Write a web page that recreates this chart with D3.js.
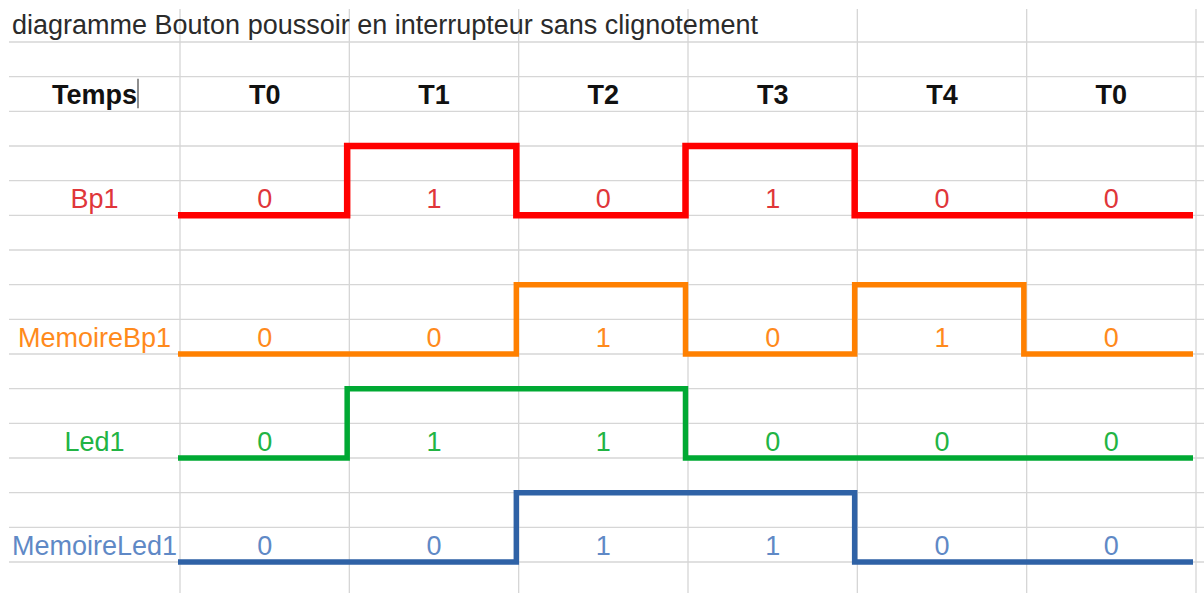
<!DOCTYPE html>
<html>
<head>
<meta charset="utf-8">
<script src="https://cdn.jsdelivr.net/npm/d3@7"></script>
<style>
  html, body { margin: 0; padding: 0; background: #fff; }
  svg { display: block; }
  text { font-family: "Liberation Sans", Arial, sans-serif; }
</style>
</head>
<body>
<script>
// data
var title = 'diagramme Bouton poussoir en interrupteur sans clignotement';
var headerLabel = 'Temps';
var times = ['T0', 'T1', 'T2', 'T3', 'T4', 'T0'];
var signals = ['Bp1', 'MemoireBp1', 'Led1', 'MemoireLed1'];
var bp1 = [0, 1, 0, 1, 0, 0];
var memoireBp1 = [0, 0, 1, 0, 1, 0];
var led1 = [0, 1, 1, 0, 0, 0];
var memoireLed1 = [0, 0, 1, 1, 0, 0];
var seriesValues = [bp1, memoireBp1, led1, memoireLed1];

// layout
var W = 1204, H = 593;
var baseRow = [5, 9, 12, 15];      // grid line where each signal sits when at 0
var lineColor = ['#ff0000', '#ff8000', '#00a933', '#2f62a6'];
var textColor = ['#e0363a', '#ff8a1c', '#22b444', '#5f89c6'];
var lineWidth = [6.5, 5.5, 5.5, 5.5];

var svg = d3.select('body').append('svg')
	.attr('width', W)
	.attr('height', H);

// spreadsheet rows / columns
var row = d3.scaleLinear().domain([0, 15]).range([42, 562]);
var col = d3.scaleLinear().domain([0, 6]).range([180, 1196]);
var step = d3.scaleLinear().domain([0, 6]).range([178, 1193]);

var grid = svg.append('g').attr('class', 'grid');
grid.selectAll('line.h')
	.data(d3.range(0, 16))
	.enter().append('line')
	.attr('class', 'h')
	.attr('x1', 9).attr('x2', W)
	.attr('y1', function(d){ return row(d); })
	.attr('y2', function(d){ return row(d); })
	.attr('stroke', '#d6d6d6')
	.attr('stroke-width', 1.3);

grid.selectAll('line.v')
	.data(d3.range(0, 7))
	.enter().append('line')
	.attr('class', 'v')
	.attr('x1', function(d){ return col(d); })
	.attr('x2', function(d){ return col(d); })
	.attr('y1', 9).attr('y2', H)
	.attr('stroke', '#d6d6d6')
	.attr('stroke-width', 1.3);

var labelX = (9 + col(0)) / 2;
var center = function(i){ return (col(i) + col(i + 1)) / 2; };
var fs = 27;

// title
svg.append('text')
	.attr('x', 12)
	.attr('y', row(0) - 8)
	.attr('font-size', fs)
	.attr('fill', '#2b2b2b')
	.text(title);

// header row
svg.append('text')
	.attr('x', labelX)
	.attr('y', row(2) - 7.5)
	.attr('text-anchor', 'middle')
	.attr('font-size', fs)
	.attr('font-weight', 'bold')
	.attr('fill', '#111')
	.text(headerLabel);

// text cursor after "Temps"
svg.append('line')
	.attr('x1', 138).attr('x2', 138)
	.attr('y1', row(1) + 2).attr('y2', row(2) - 3)
	.attr('stroke', '#444')
	.attr('stroke-width', 1.2);

svg.selectAll('text.time')
	.data(times)
	.enter().append('text')
	.attr('class', 'time')
	.attr('x', function(d, i){ return center(i); })
	.attr('y', row(2) - 7.5)
	.attr('text-anchor', 'middle')
	.attr('font-size', fs)
	.attr('font-weight', 'bold')
	.attr('fill', '#111')
	.text(function(d){ return d; });

// signals
var line = d3.line()
	.x(function(d){ return step(d.i); })
	.y(function(d){ return d.y; })
	.curve(d3.curveStepAfter);

signals.forEach(function(name, s){
	var vals = seriesValues[s];
	var yOf = function(v){ return row(baseRow[s] - 2 * v); };
	var pts = vals.map(function(v, i){ return {i: i, y: yOf(v)}; });
	pts.push({i: vals.length, y: yOf(vals[vals.length - 1])});

	var g = svg.append('g').attr('class', 'signal');

	g.append('text')
		.attr('x', labelX)
		.attr('y', row(baseRow[s]) - 7.5)
		.attr('text-anchor', 'middle')
		.attr('font-size', fs)
		.attr('fill', textColor[s])
		.text(name);

	g.selectAll('text.val')
		.data(vals)
		.enter().append('text')
		.attr('class', 'val')
		.attr('x', function(d, i){ return center(i); })
		.attr('y', row(baseRow[s]) - 7.5)
		.attr('text-anchor', 'middle')
		.attr('font-size', fs)
		.attr('fill', textColor[s])
		.text(function(d){ return d; });

	g.append('path')
		.attr('d', line(pts))
		.attr('fill', 'none')
		.attr('stroke', lineColor[s])
		.attr('stroke-width', lineWidth[s])
		.attr('stroke-linejoin', 'miter');
});
</script>
</body>
</html>
